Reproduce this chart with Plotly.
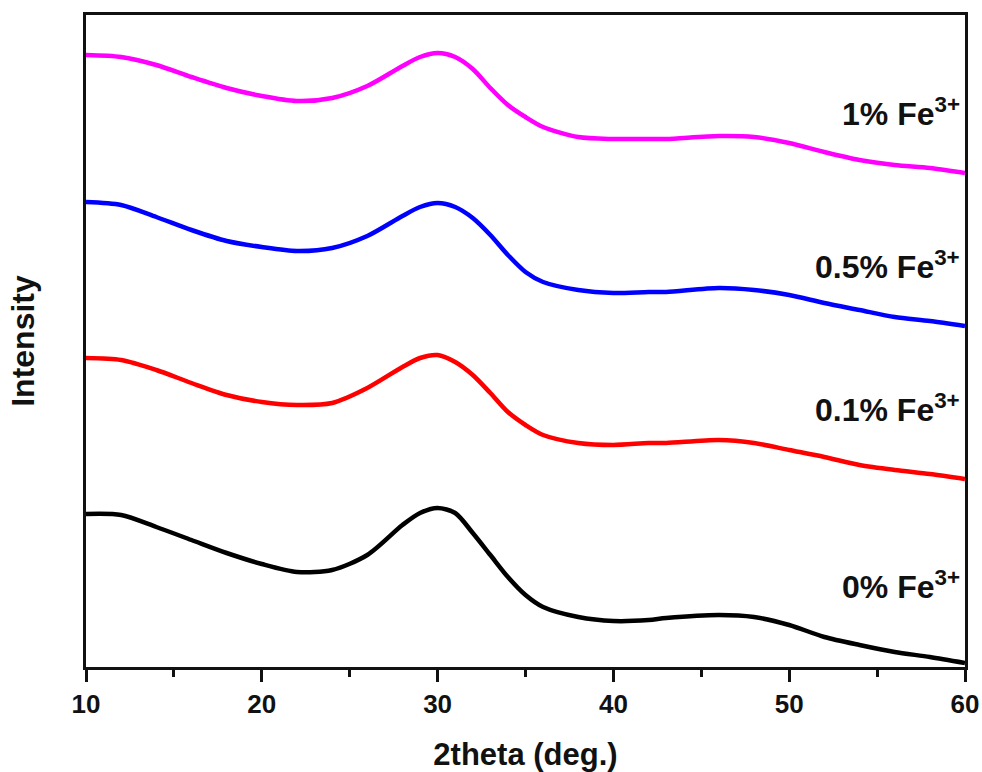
import plotly.graph_objects as go

two_theta = [10, 12, 14, 16, 18, 20, 22, 24, 26, 28, 29, 30, 31, 32, 33, 34, 35, 36,
             38, 40, 42, 43, 46, 48, 50, 52, 54, 56, 58, 60]

fe_0 = [153, 152, 140, 127, 114, 103, 95, 97, 112, 142, 154, 159, 154, 134, 112, 90, 72, 60,
        50, 46, 47, 49, 52, 50, 42, 30, 22, 15, 10, 4]
fe_01 = [309, 307, 297, 284, 272, 265, 262, 264, 279, 300, 309, 312, 305, 292, 274, 255, 242, 232,
         224, 222, 224, 224, 227, 224, 217, 210, 202, 197, 193, 188]
fe_05 = [465, 462, 450, 437, 426, 420, 416, 419, 431, 451, 460, 464, 460, 449, 432, 412, 395, 385,
         377, 374, 375, 375, 379, 377, 372, 364, 357, 350, 346, 341]
fe_1 = [612, 610, 602, 590, 579, 571, 566, 569, 581, 601, 610, 614, 610, 598, 579, 562, 550, 540,
        530, 528, 528, 528, 531, 530, 524, 515, 507, 502, 499, 494]

series_names = ["0% Fe<sup>3+</sup>", "0.1% Fe<sup>3+</sup>", "0.5% Fe<sup>3+</sup>", "1% Fe<sup>3+</sup>"]
series_values = [fe_0, fe_01, fe_05, fe_1]
series_colors = ["#000000", "#FF0000", "#0000FF", "#FF00FF"]
label_y = [82, 259, 402, 555]

FONT = "Liberation Sans, Arial"
INK = "#111111"

fig = go.Figure()
for name, vals, col in zip(series_names, series_values, series_colors):
    fig.add_trace(go.Scatter(x=two_theta, y=vals, mode="lines", name=name,
                             line=dict(color=col, width=4.5, shape="spline", smoothing=0.8)))

for name, ly in zip(series_names, label_y):
    fig.add_annotation(x=60, y=ly, xref="x", yref="y", text=name,
                       showarrow=False, xanchor="right", yanchor="middle", xshift=-3,
                       font=dict(family=FONT, size=32, color=INK, weight="bold"))

fig.update_layout(
    width=982, height=772,
    margin=dict(l=86, r=17, t=15, b=105),
    paper_bgcolor="white", plot_bgcolor="white",
    showlegend=False,
    font=dict(family=FONT, color=INK),
)
fig.update_xaxes(
    range=[10, 60], dtick=10, tick0=10, automargin=False,
    showline=True, linecolor=INK, linewidth=2.5, mirror=True,
    ticks="outside", ticklen=12, tickwidth=2.5, tickcolor=INK,
    minor=dict(ticks="outside", dtick=5, ticklen=7, tickwidth=2.5, tickcolor=INK),
    showgrid=False, zeroline=False,
    tickfont=dict(family=FONT, size=26, color=INK, weight="bold"),
    title=dict(text="2theta (deg.)", standoff=27,
               font=dict(family=FONT, size=31, color=INK, weight="bold")),
)
fig.update_yaxes(
    range=[0, 652], automargin=False,
    showline=True, linecolor=INK, linewidth=2.5, mirror=True,
    ticks="", showticklabels=False, showgrid=False, zeroline=False,
    title=dict(text="Intensity", standoff=40,
               font=dict(family=FONT, size=32, color=INK, weight="bold")),
)

fig.write_html("out.html",
               config={"displayModeBar": False},
               post_script="document.body.style.margin='0';document.body.style.overflow='hidden';")
